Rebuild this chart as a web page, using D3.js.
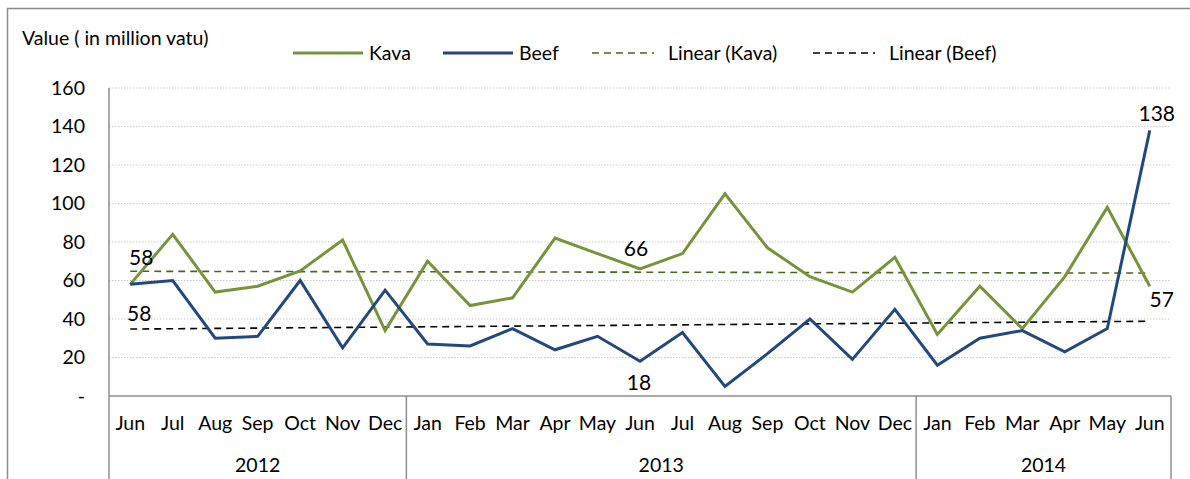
<!DOCTYPE html>
<html>
<head>
<meta charset="utf-8">
<title>Kava and Beef exports</title>
<script src="https://cdn.jsdelivr.net/npm/d3@7"></script>
<style>
  body { margin: 0; background: #fff; }
  svg text { font-family: Lato, "Open Sans", sans-serif; fill: #000; }
</style>
</head>
<body>
<svg id="svg"></svg>
<script>
// data (million vatu)
var months = ["Jun","Jul","Aug","Sep","Oct","Nov","Dec",
              "Jan","Feb","Mar","Apr","May","Jun","Jul","Aug","Sep","Oct","Nov","Dec",
              "Jan","Feb","Mar","Apr","May","Jun"];
var years = [{label: "2012", n: 7}, {label: "2013", n: 12}, {label: "2014", n: 6}];
var kava = [58,84,54,57,65,81,34, 70,47,51,82,74,66,74,105,77,62,54,72, 32,57,35,62,98,57];
var beef = [58,60,30,31,60,25,55, 27,26,35,24,31,18,33,5,22,40,19,45, 16,30,34,23,35,138];
var yTicks = [0,20,40,60,80,100,120,140,160];

var width = 1190, height = 479,
    margins = {top: 88, left: 109, right: 19, bottom: 83};
var plotW = width - margins.left - margins.right,
    plotH = height - margins.top - margins.bottom;

var green = "#77933c", blue = "#23497c", axisCol = "#8c8c8c";
var fs = "19.5px";

var svg = d3.select("#svg").attr("width", width).attr("height", height);

// outer chart border
svg.append("rect")
    .attr("x", 7.5).attr("y", 8.5)
    .attr("width", width).attr("height", height + 20)
    .attr("fill", "none").attr("stroke", axisCol).attr("stroke-width", 1.5);

var scaleX = d3.scaleBand().domain(d3.range(months.length)).range([0, plotW]);
var scaleY = d3.scaleLinear().domain([0, 160]).range([plotH, 0]);
var cx = function(i) { return scaleX(i) + scaleX.bandwidth() / 2; };

var g = svg.append("g").attr("transform", "translate(" + margins.left + "," + margins.top + ")");

// gridlines
g.selectAll("line.grid").data(yTicks.filter(function(d){ return d > 0; }))
  .enter().append("line")
    .attr("x1", 0).attr("x2", plotW)
    .attr("y1", function(d){ return scaleY(d); }).attr("y2", function(d){ return scaleY(d); })
    .attr("stroke", "#c9c9c9").attr("stroke-width", 1.2).attr("stroke-dasharray", "1.5,1.5");

// y tick labels
g.selectAll("text.ytick").data(yTicks).enter().append("text")
    .attr("x", -24).attr("y", function(d){ return scaleY(d); })
    .attr("dy", "0.35em").attr("text-anchor", "end")
    .style("font-size", fs)
    .text(function(d){ return d === 0 ? "-" : d; });

// axes lines
g.append("line").attr("x1", 0).attr("x2", 0).attr("y1", 0).attr("y2", height)
    .attr("stroke", axisCol).attr("stroke-width", 1.5);
g.append("line").attr("x1", 0).attr("x2", plotW).attr("y1", plotH).attr("y2", plotH)
    .attr("stroke", axisCol).attr("stroke-width", 1.5);

// year group separators and labels
var start = 0;
years.forEach(function(yr) {
  var x0 = scaleX(start), x1 = scaleX(start + yr.n - 1) + scaleX.bandwidth();
  g.append("line").attr("x1", x1).attr("x2", x1).attr("y1", plotH).attr("y2", height)
      .attr("stroke", axisCol).attr("stroke-width", 1.5);
  g.append("text").attr("x", (x0 + x1) / 2).attr("y", plotH + 69)
      .attr("dy", "0.35em").attr("text-anchor", "middle")
      .style("font-size", fs).text(yr.label);
  start += yr.n;
});

// month labels
g.selectAll("text.month").data(months).enter().append("text")
    .attr("x", function(d, i){ return cx(i); }).attr("y", plotH + 27)
    .attr("dy", "0.35em").attr("text-anchor", "middle")
    .style("font-size", fs)
    .text(function(d){ return d; });

// linear trend (least squares, as Excel does)
function trend(vals) {
  var n = vals.length, mx = (n - 1) / 2, my = d3.mean(vals);
  var sxy = d3.sum(vals, function(v, i){ return (i - mx) * (v - my); });
  var sxx = d3.sum(vals, function(v, i){ return (i - mx) * (i - mx); });
  var b = sxy / sxx, a = my - b * mx;
  return [[0, a], [n - 1, a + b * (n - 1)]];
}
var line = d3.line().x(function(d, i){ return cx(i); }).y(function(d){ return scaleY(d); });
var tline = d3.line().x(function(d){ return cx(d[0]); }).y(function(d){ return scaleY(d[1]); });

g.append("path").attr("d", tline(trend(kava))).attr("fill", "none")
    .attr("stroke", "#4f6228").attr("stroke-width", 1.6).attr("stroke-dasharray", "7,5");
g.append("path").attr("d", tline(trend(beef))).attr("fill", "none")
    .attr("stroke", "#000").attr("stroke-width", 1.6).attr("stroke-dasharray", "7,5");

g.append("path").attr("d", line(kava)).attr("fill", "none")
    .attr("stroke", green).attr("stroke-width", 3).attr("stroke-linejoin", "miter");
g.append("path").attr("d", line(beef)).attr("fill", "none")
    .attr("stroke", blue).attr("stroke-width", 3).attr("stroke-linejoin", "miter");

// data labels
var labels = [
  {s: kava, i: 0, dx: 11, dy: -27},
  {s: beef, i: 0, dx: 9, dy: 29},
  {s: kava, i: 12, dx: -4, dy: -20},
  {s: beef, i: 12, dx: -1, dy: 21},
  {s: beef, i: 24, dx: 7, dy: -17},
  {s: kava, i: 24, dx: 12, dy: 13}
];
g.selectAll("text.dl").data(labels).enter().append("text")
    .attr("x", function(d){ return cx(d.i) + d.dx; })
    .attr("y", function(d){ return scaleY(d.s[d.i]) + d.dy; })
    .attr("dy", "0.35em").attr("text-anchor", "middle")
    .style("font-size", "21px")
    .text(function(d){ return d.s[d.i]; });

// y title
svg.append("text").attr("x", 22).attr("y", 38).attr("dy", "0.35em")
    .style("font-size", fs).text("Value ( in million vatu)");

// legend
var legend = [
  {name: "Kava", x: 293, w: 70, color: green, dash: null},
  {name: "Beef", x: 443, w: 70, color: blue, dash: null},
  {name: "Linear (Kava)", x: 592, w: 62, color: "#4f6228", dash: "7,5"},
  {name: "Linear (Beef)", x: 813, w: 62, color: "#000", dash: "7,5"}
];
var lg = svg.selectAll("g.legend").data(legend).enter().append("g")
    .attr("transform", function(d){ return "translate(" + d.x + ",53)"; });
lg.append("line").attr("x1", 0).attr("x2", function(d){ return d.w; })
    .attr("stroke", function(d){ return d.color; })
    .attr("stroke-width", function(d){ return d.dash ? 1.6 : 3; })
    .attr("stroke-dasharray", function(d){ return d.dash; });
lg.append("text").attr("x", function(d){ return d.dash ? d.w + 14 : d.w + 6; })
    .attr("dy", "0.35em").style("font-size", fs)
    .text(function(d){ return d.name; });
</script>
</body>
</html>
